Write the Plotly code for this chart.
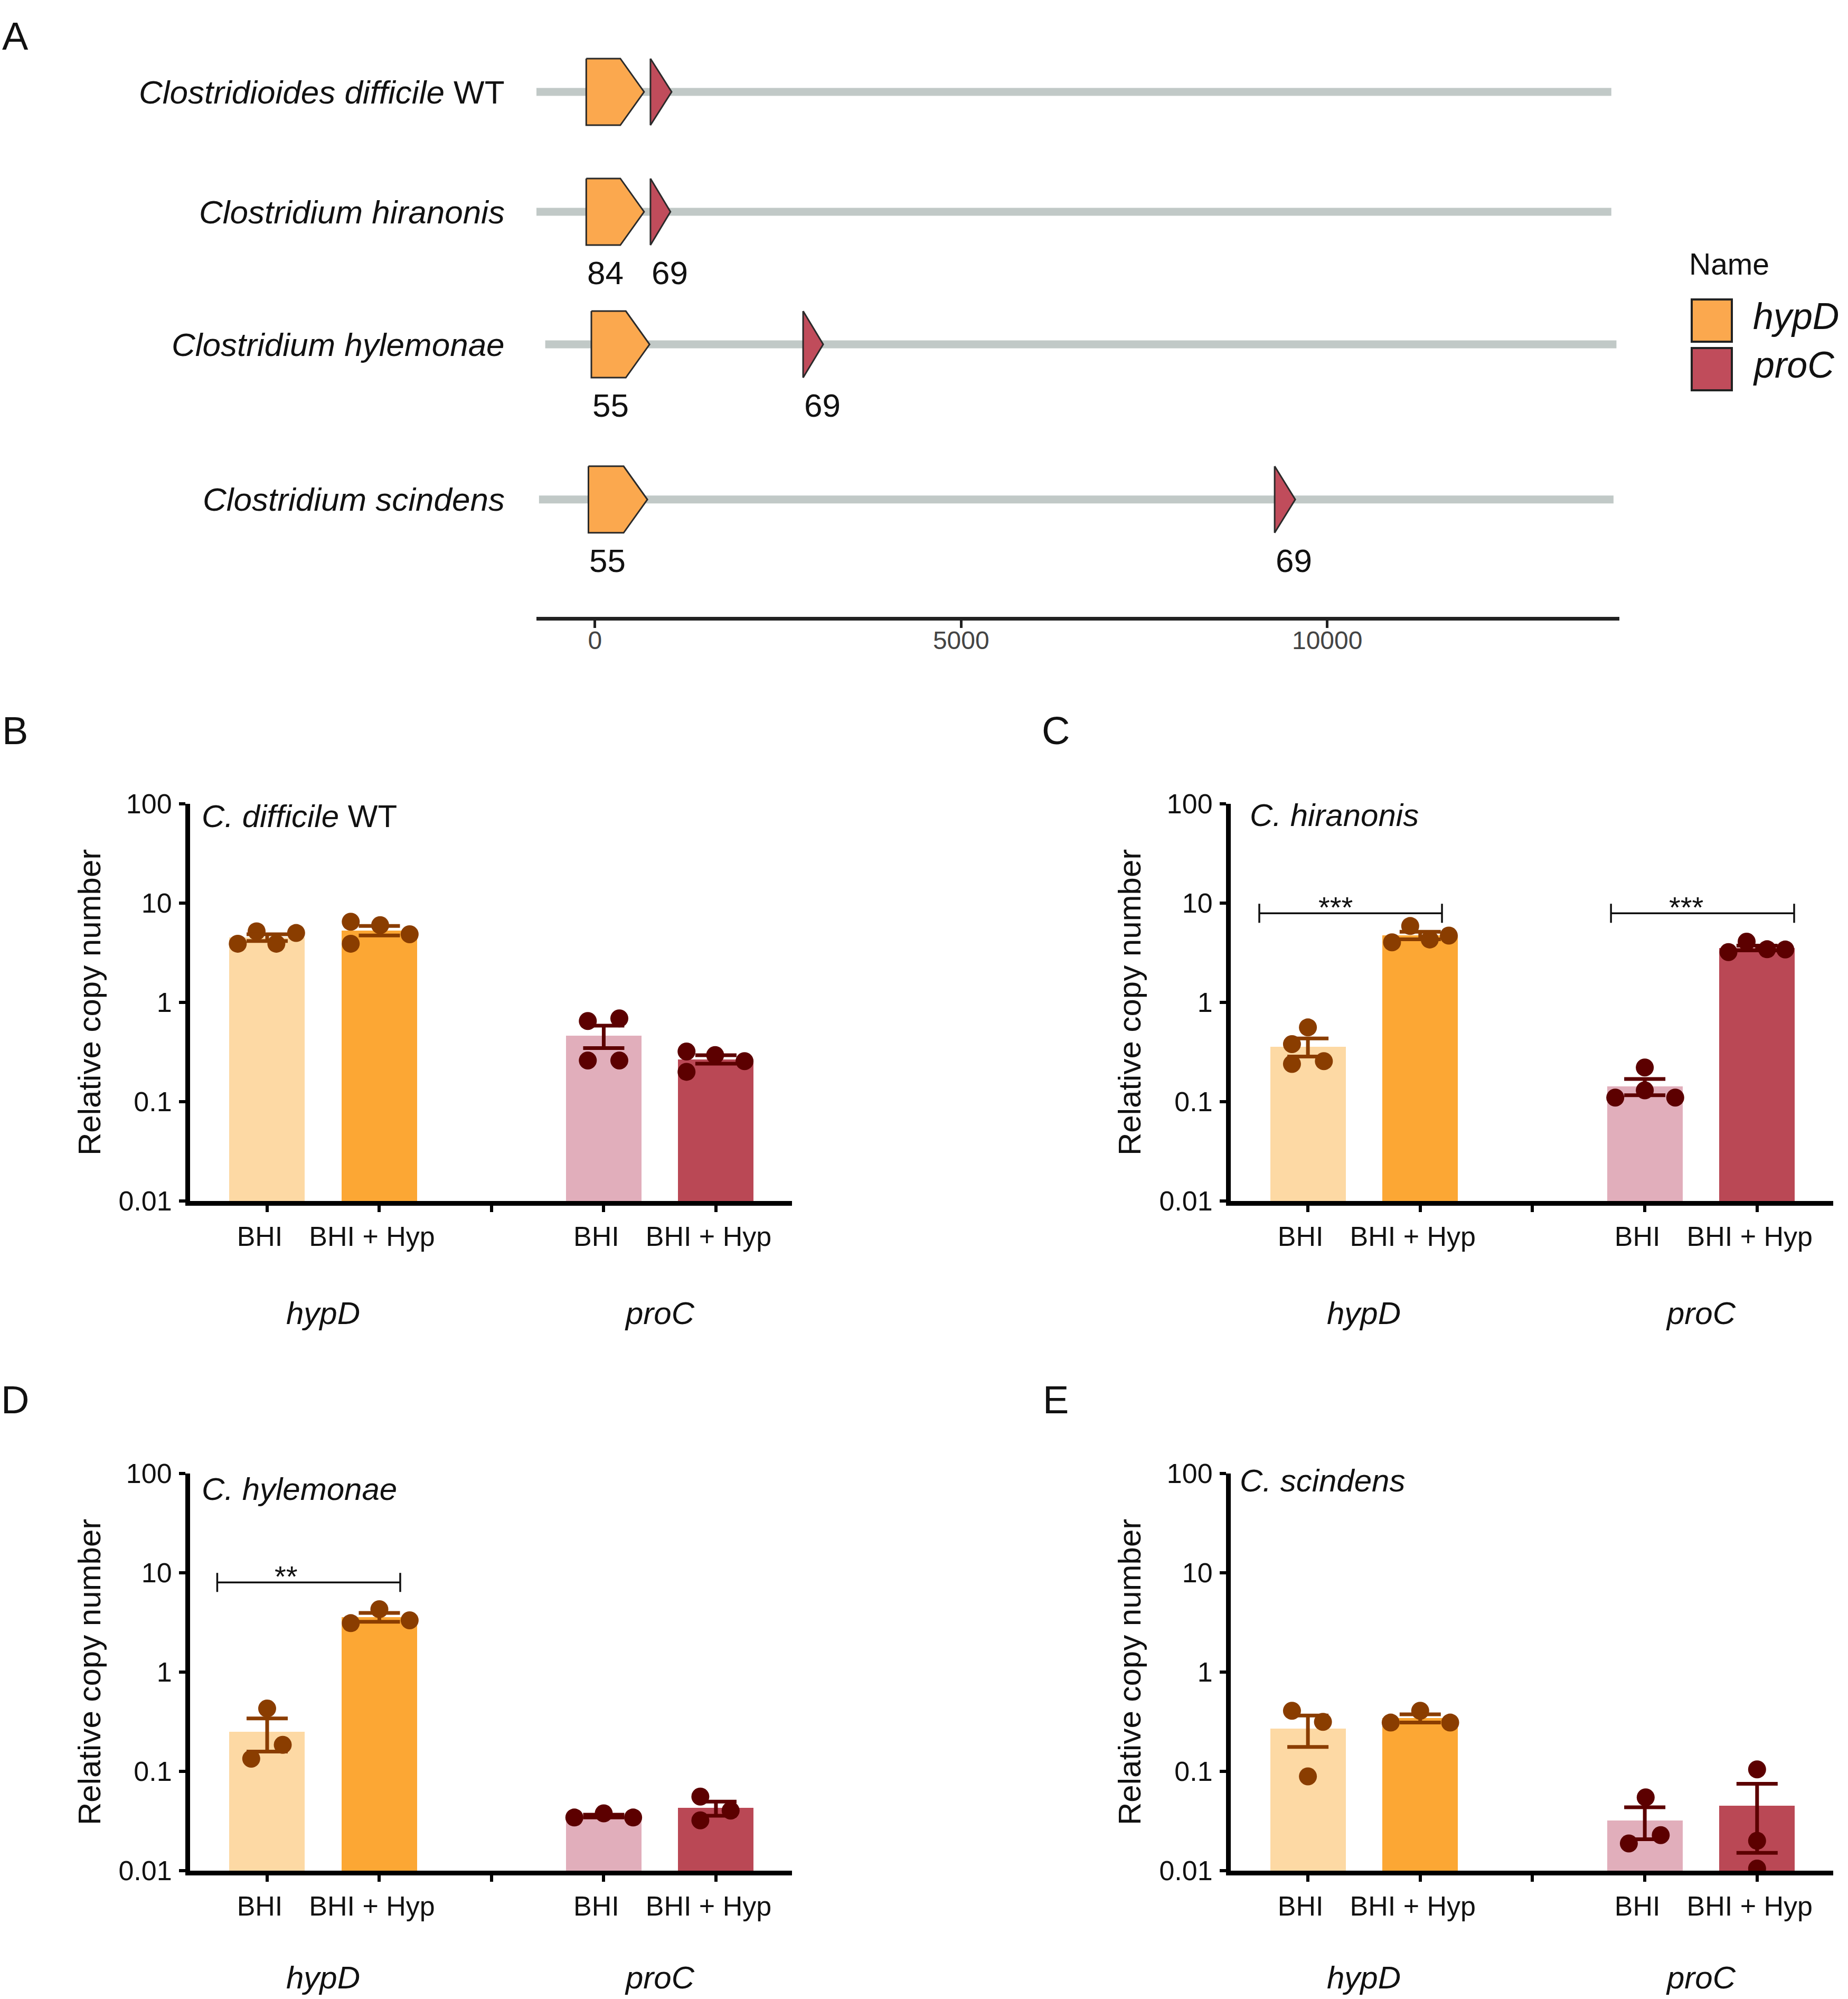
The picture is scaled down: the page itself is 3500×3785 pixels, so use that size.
import numpy as np
import plotly.graph_objects as go

W, H = 3500, 3785
FONT = "Arial, Liberation Sans, Helvetica, sans-serif"

# ---------------- Panel A: genomic context (bp) ----------------
SPECIES = ["<i>Clostridioides difficile</i> WT", "<i>Clostridium hiranonis</i>",
           "<i>Clostridium hylemonae</i>", "<i>Clostridium scindens</i>"]
CONTIG_START = [-800, -800, -680, -765]
CONTIG_END = [13880, 13880, 13950, 13910]
HYPD_START = [-120, -120, -50, -90]
HYPD_END = [670, 670, 745, 715]
PROC_START = [757, 757, 2842, 9282]
PROC_END = [1046, 1030, 3116, 9563]
HYPD_IDENTITY = ["", "84", "55", "55"]
PROC_IDENTITY = ["", "69", "69", "69"]
GENOME_TICKS = [0, 5000, 10000]
LEGEND_GENES = ["hypD", "proC"]

# ---------------- Panels B-E: relative copy number ----------------
CONDITIONS = ["BHI", "BHI + Hyp", "", "BHI", "BHI + Hyp"]
GENE_GROUPS = ["hypD", "proC"]

B_TITLE = "<i>C. difficile</i> WT"
B_HYPD_BHI = [3.9, 5.2, 3.9, 5.0]
B_HYPD_HYP = [6.5, 3.9, 6.0, 4.85]
B_PROC_BHI = [0.65, 0.26, 0.69, 0.26]
B_PROC_HYP = [0.32, 0.20, 0.295, 0.256]

C_TITLE = "<i>C. hiranonis</i>"
C_HYPD_BHI = [0.38, 0.24, 0.56, 0.256]
C_HYPD_HYP = [4.03, 5.88, 4.3, 4.71]
C_PROC_BHI = [0.11, 0.221, 0.13, 0.11]
C_PROC_HYP = [3.21, 4.09, 3.43, 3.41]
C_SIGNIF = ["***", "***"]

D_TITLE = "<i>C. hylemonae</i>"
D_HYPD_BHI = [0.134, 0.43, 0.185]
D_HYPD_HYP = [3.11, 4.3, 3.32]
D_PROC_BHI = [0.0343, 0.0378, 0.0343]
D_PROC_HYP = [0.0557, 0.0321, 0.0403]
D_SIGNIF = ["**"]

E_TITLE = "<i>C. scindens</i>"
E_HYPD_BHI = [0.408, 0.089, 0.315]
E_HYPD_HYP = [0.31, 0.408, 0.31]
E_PROC_BHI = [0.0188, 0.0547, 0.0228]
E_PROC_HYP = [0.1047, 0.02, 0.0105]

# ---------------- styles / layout ----------------
HYPD_ARROW = "#FBA84E"
PROC_ARROW = "#C04C5B"
TRACK_GRAY = "#C1C9C7"
BAR_COLORS = ["#FDD9A4", "#FCA734", "#E1AEBB", "#BA4855"]
POINT_COLORS = ["#8A3D00", "#8A3D00", "#5C0000", "#5C0000"]
BAR_POS = [0, 1, 3, 4]
BAR_WIDTH = 0.673


def px(x):
    return x / W


def py(y):
    return 1 - y / H


fig = go.Figure()
ann = []
shapes = []

# ---- Panel A axes ----
A_XPX = (1016, 3067)
A_XRANGE = (-800, 13990)
A_YPX = (40, 1168)
ROW_PX = 227.0
ROW_TOP_PX = 174
TRACK_ROW = [0, 1.0, 2.106, 3.40]
a_y_top = -(ROW_TOP_PX - A_YPX[0]) / ROW_PX
a_y_bot = (A_YPX[1] - ROW_TOP_PX) / ROW_PX
px_per_bp = (A_XPX[1] - A_XPX[0]) / (A_XRANGE[1] - A_XRANGE[0])
HEAD_BP = 45 / px_per_bp
HALF_H = 63 / ROW_PX


def gene_poly(s, e, row):
    if e - s > HEAD_BP:
        xs = [s, e - HEAD_BP, e, e - HEAD_BP, s, s]
        ys = [row - HALF_H, row - HALF_H, row, row + HALF_H, row + HALF_H, row - HALF_H]
    else:
        xs = [s, e, s, s]
        ys = [row - HALF_H, row, row + HALF_H, row - HALF_H]
    return xs, ys


for i, sp in enumerate(SPECIES):
    row = TRACK_ROW[i]
    fig.add_trace(go.Scatter(x=[CONTIG_START[i], CONTIG_END[i]], y=[row, row], mode="lines",
                             line=dict(color=TRACK_GRAY, width=15), xaxis="x", yaxis="y",
                             showlegend=False, hoverinfo="skip"))
    for s, e, col in [(HYPD_START[i], HYPD_END[i], HYPD_ARROW), (PROC_START[i], PROC_END[i], PROC_ARROW)]:
        xs, ys = gene_poly(s, e, row)
        fig.add_trace(go.Scatter(x=xs, y=ys, mode="lines", fill="toself", fillcolor=col,
                                 line=dict(color="#2A2A2A", width=3), xaxis="x", yaxis="y",
                                 showlegend=False, hoverinfo="skip"))
    ann.append(dict(text=sp, xref="paper", yref="y", x=px(958), y=row, xanchor="right",
                    yanchor="middle", showarrow=False, font=dict(size=62, color="#111", family=FONT)))
    for s, lab in [(HYPD_START[i], HYPD_IDENTITY[i]), (PROC_START[i], PROC_IDENTITY[i])]:
        if lab:
            ann.append(dict(text=lab, xref="x", yref="y", x=s, y=row + 0.51, xanchor="left",
                            yanchor="middle", showarrow=False, font=dict(size=62, color="#111", family=FONT)))

# legend for panel A
ann.append(dict(text="Name", xref="paper", yref="paper", x=px(3197), y=py(500), xanchor="left",
                yanchor="middle", showarrow=False, font=dict(size=57, color="#111", family=FONT)))
for k, (g, col) in enumerate(zip(LEGEND_GENES, [HYPD_ARROW, PROC_ARROW])):
    y0 = 567 + k * 92
    shapes.append(dict(type="rect", xref="paper", yref="paper", x0=px(3204), x1=px(3280),
                       y0=py(y0 + 80), y1=py(y0), fillcolor=col, line=dict(color="#222", width=4)))
    ann.append(dict(text="<i>%s</i>" % g, xref="paper", yref="paper", x=px(3318), y=py(y0 + 32),
                    xanchor="left", yanchor="middle", showarrow=False,
                    font=dict(size=70, color="#111", family=FONT)))

layout_axes = dict(
    xaxis=dict(domain=[px(A_XPX[0]), px(A_XPX[1])], range=list(A_XRANGE), anchor="y",
               showline=True, linewidth=7, linecolor="#222", ticks="outside", ticklen=14,
               tickwidth=5, tickcolor="#222", tickvals=GENOME_TICKS,
               ticktext=[str(t) for t in GENOME_TICKS], tickfont=dict(size=48, color="#444", family=FONT),
               showgrid=False, zeroline=False, ticklabelstandoff=-18, automargin=False),
    yaxis=dict(domain=[py(A_YPX[1]), py(A_YPX[0])], range=[a_y_bot, a_y_top], anchor="x",
               visible=False, showgrid=False, zeroline=False, automargin=False),
)

# ---- Bar panels ----
PANELS = [
    dict(letter="B", title=B_TITLE, data=[B_HYPD_BHI, B_HYPD_HYP, B_PROC_BHI, B_PROC_HYP],
         xpx=(360, 1500), ypx=(1522, 2274), title_px=(380, 1546), letter_px=(29, 1383),
         ytitle_x=169, gene_y=2486,
         jitter=[[-0.262, -0.094, 0.082, 0.258], [-0.255, -0.255, 0.007, 0.27],
                 [-0.142, -0.142, 0.139, 0.139], [-0.262, -0.262, -0.007, 0.255]],
         signif=[], brackets=[]),
    dict(letter="C", title=C_TITLE, data=[C_HYPD_BHI, C_HYPD_HYP, C_PROC_BHI, C_PROC_HYP],
         xpx=(2331, 3472), ypx=(1522, 2274), title_px=(2365, 1544), letter_px=(1999, 1383),
         ytitle_x=2139, gene_y=2486,
         jitter=[[-0.142, -0.142, 0.0, 0.142], [-0.251, -0.089, 0.085, 0.255],
                 [-0.263, 0.0, 0.0, 0.271], [-0.255, -0.093, 0.089, 0.251]],
         signif=C_SIGNIF, brackets=[(-0.433, 1.194, 7.9, 0.245), (2.699, 4.33, 7.9, 3.37)]),
    dict(letter="D", title=D_TITLE, data=[D_HYPD_BHI, D_HYPD_HYP, D_PROC_BHI, D_PROC_HYP],
         xpx=(360, 1500), ypx=(2790, 3542), title_px=(380, 2819), letter_px=(29, 2650),
         ytitle_x=169, gene_y=3744,
         jitter=[[-0.142, 0.0, 0.139], [-0.255, 0.0, 0.27],
                 [-0.262, 0.0, 0.262], [-0.139, -0.139, 0.131]],
         signif=D_SIGNIF, brackets=[(-0.445, 1.186, 8.0, 0.17)]),
    dict(letter="E", title=E_TITLE, data=[E_HYPD_BHI, E_HYPD_HYP, E_PROC_BHI, E_PROC_HYP],
         xpx=(2331, 3472), ypx=(2790, 3542), title_px=(2346, 2803), letter_px=(1999, 2650),
         ytitle_x=2139, gene_y=3744,
         jitter=[[-0.142, 0.0, 0.134], [-0.263, 0.0, 0.267],
                 [-0.142, 0.008, 0.142], [0.0, 0.0, 0.0]],
         signif=[], brackets=[]),
]

XRANGE = [-0.687, 4.678]
for pi, p in enumerate(PANELS):
    n = pi + 2
    xa, ya = "x%d" % n, "y%d" % n
    means = [float(np.mean(v)) for v in p["data"]]
    sems = [float(np.std(v, ddof=1) / np.sqrt(len(v))) for v in p["data"]]
    fig.add_trace(go.Bar(x=BAR_POS, y=means, width=BAR_WIDTH, marker=dict(color=BAR_COLORS, line=dict(width=0)),
                         xaxis=xa, yaxis=ya, showlegend=False))
    for g, vals in enumerate(p["data"]):
        fig.add_trace(go.Scatter(x=[BAR_POS[g] + j for j in p["jitter"][g]], y=vals, mode="markers",
                                 marker=dict(size=34, color=POINT_COLORS[g], line=dict(width=0)),
                                 xaxis=xa, yaxis=ya, showlegend=False))
    for g in range(4):
        fig.add_trace(go.Scatter(x=[BAR_POS[g]], y=[means[g]], mode="markers",
                                 marker=dict(size=1, color="rgba(0,0,0,0)"),
                                 error_y=dict(type="data", array=[sems[g]], visible=True,
                                              color=POINT_COLORS[g], thickness=7, width=39),
                                 xaxis=xa, yaxis=ya, showlegend=False))
    # significance brackets
    for (x0, x1, yb, xs), lab in zip(p["brackets"], p["signif"]):
        cap = 10 ** 0.096
        fig.add_trace(go.Scatter(x=[x0, x0, None, x0, x1, None, x1, x1],
                                 y=[yb / cap, yb * cap, None, yb, yb, None, yb / cap, yb * cap],
                                 mode="lines", line=dict(color="#111", width=3.5),
                                 xaxis=xa, yaxis=ya, showlegend=False, hoverinfo="skip"))
        ann.append(dict(text=lab, xref=xa, yref=ya, x=xs, y=np.log10(yb), xanchor="center",
                        yanchor="middle", yshift=12, showarrow=False,
                        font=dict(size=56, color="#111", family=FONT)))
    layout_axes["xaxis%d" % n] = dict(
        domain=[px(p["xpx"][0]), px(p["xpx"][1])], range=XRANGE, anchor=ya,
        showline=True, linewidth=9, linecolor="#000", ticks="outside", ticklen=12, tickwidth=6,
        tickcolor="#000", tickvals=[0, 1, 2, 3, 4], ticktext=CONDITIONS,
        tickfont=dict(size=52, color="#111", family=FONT), showgrid=False, zeroline=False,
        ticklabelstandoff=2, ticklabelshift=-14, automargin=False)
    layout_axes["yaxis%d" % n] = dict(
        domain=[py(p["ypx"][1]), py(p["ypx"][0])], type="log", range=[-2, 2], anchor=xa,
        showline=True, linewidth=9, linecolor="#000", ticks="outside", ticklen=12, tickwidth=6,
        tickcolor="#000", tickvals=[0.01, 0.1, 1, 10, 100], ticktext=["0.01", "0.1", "1", "10", "100"],
        tickfont=dict(size=52, color="#111", family=FONT), showgrid=False, zeroline=False,
        ticklabelstandoff=3, automargin=False)
    ann.append(dict(text=p["title"], xref="paper", yref="paper", x=px(p["title_px"][0]),
                    y=py(p["title_px"][1]), xanchor="left", yanchor="middle", showarrow=False,
                    font=dict(size=60, color="#111", family=FONT)))
    ann.append(dict(text="Relative copy number", xref="paper", yref="paper", x=px(p["ytitle_x"]),
                    y=py((p["ypx"][0] + p["ypx"][1]) / 2), xanchor="center", yanchor="middle",
                    textangle=-90, showarrow=False, font=dict(size=60, color="#111", family=FONT)))
    for gi, gene in enumerate(GENE_GROUPS):
        ann.append(dict(text="<i>%s</i>" % gene, xref=xa, yref="paper",
                        x=(BAR_POS[2 * gi] + BAR_POS[2 * gi + 1]) / 2, y=py(p["gene_y"]),
                        xanchor="center", yanchor="middle", showarrow=False,
                        font=dict(size=60, color="#111", family=FONT)))
    ann.append(dict(text=p["letter"], xref="paper", yref="paper", x=px(p["letter_px"][0]),
                    y=py(p["letter_px"][1]), xanchor="center", yanchor="middle", showarrow=False,
                    font=dict(size=74, color="#111", family=FONT)))

ann.append(dict(text="A", xref="paper", yref="paper", x=px(29), y=py(68), xanchor="center",
                yanchor="middle", showarrow=False, font=dict(size=74, color="#111", family=FONT)))

fig.update_layout(
    width=W, height=H, margin=dict(l=0, r=0, t=0, b=0, pad=0, autoexpand=False),
    paper_bgcolor="white", plot_bgcolor="rgba(0,0,0,0)",
    font=dict(family=FONT, color="#111"),
    annotations=ann, shapes=shapes, bargap=0,
    **layout_axes,
)

fig.write_html("out.html", config={"displayModeBar": False},
               post_script="document.body.style.margin='0';")
